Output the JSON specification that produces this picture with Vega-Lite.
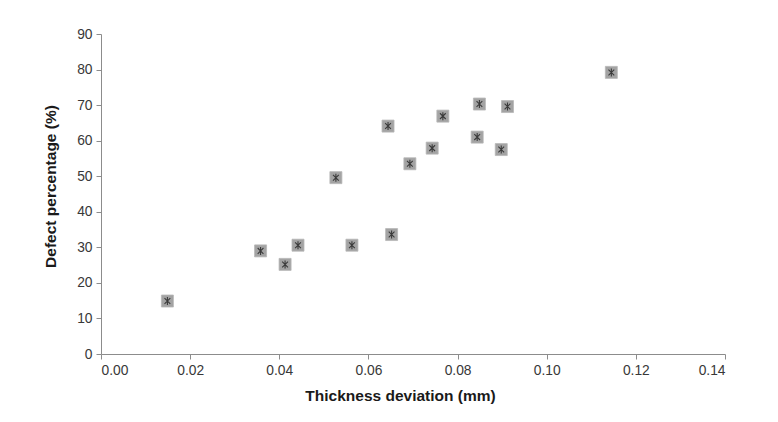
{
  "$schema": "https://vega.github.io/schema/vega-lite/v6.json",
  "autosize": {"type": "none"},
  "width": 624,
  "height": 320,
  "padding": {"left": 101, "top": 34, "right": 53, "bottom": 68},
  "background": "white",
  "config": {
    "view": {"stroke": null},
    "font": "Liberation Sans",
    "axis": {
      "grid": false,
      "domainColor": "#8c8c8c",
      "domainWidth": 1,
      "tickColor": "#8c8c8c",
      "tickSize": 5,
      "labelFont": "Liberation Sans",
      "labelFontSize": 13.8,
      "labelColor": "#383838",
      "titleFont": "Liberation Sans",
      "titleFontSize": 15.5,
      "titleFontWeight": "bold",
      "titleColor": "#1a1a1a"
    }
  },
  "data": {
    "values": [
      {"thickness": 0.0149, "defect": 14.9},
      {"thickness": 0.0358, "defect": 29.0},
      {"thickness": 0.0413, "defect": 25.2},
      {"thickness": 0.0442, "defect": 30.6},
      {"thickness": 0.0527, "defect": 49.6},
      {"thickness": 0.0563, "defect": 30.6},
      {"thickness": 0.0644, "defect": 64.1},
      {"thickness": 0.0652, "defect": 33.6},
      {"thickness": 0.0693, "defect": 53.5},
      {"thickness": 0.0743, "defect": 57.9},
      {"thickness": 0.0767, "defect": 66.9},
      {"thickness": 0.0844, "defect": 61.0},
      {"thickness": 0.0849, "defect": 70.3},
      {"thickness": 0.0898, "defect": 57.5},
      {"thickness": 0.0912, "defect": 69.6},
      {"thickness": 0.1145, "defect": 79.2}
    ]
  },
  "encoding": {
    "x": {
      "field": "thickness",
      "type": "quantitative",
      "scale": {"domain": [0, 0.14], "nice": false, "zero": true},
      "axis": {
        "title": "Thickness  deviation (mm)",
        "values": [0, 0.02, 0.04, 0.06, 0.08, 0.1, 0.12, 0.14],
        "format": ".2f",
        "labelPadding": 4,
        "titleX": 299,
        "titleY": 41,
        "titleBaseline": "middle"
      }
    },
    "y": {
      "field": "defect",
      "type": "quantitative",
      "scale": {"domain": [0, 90], "nice": false},
      "axis": {
        "title": "Defect percentage (%)",
        "values": [0, 10, 20, 30, 40, 50, 60, 70, 80, 90],
        "labelPadding": 4,
        "titleX": -51,
        "titleY": 152,
        "titleAngle": -90,
        "titleBaseline": "middle",
        "titleAlign": "center"
      }
    }
  },
  "layer": [
    {
      "mark": {"type": "point", "shape": "square", "filled": true, "size": 144, "color": "#a3a3a3", "opacity": 1, "stroke": "#b8b8b8", "strokeWidth": 0.8}
    },
    {
      "mark": {
        "type": "point",
        "shape": "M0,-1L0,1M-0.72,-0.72L0.72,0.72M-0.72,0.72L0.72,-0.72",
        "filled": false,
        "size": 64,
        "stroke": "#3a3a3a",
        "strokeWidth": 1.1,
        "opacity": 1
      }
    }
  ]
}
